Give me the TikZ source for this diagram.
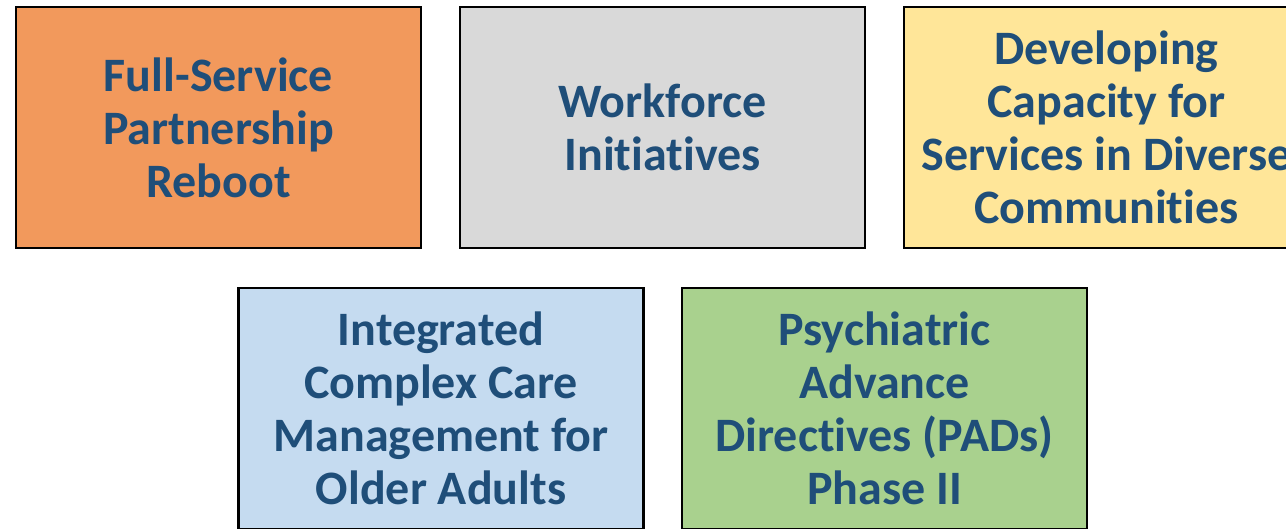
\documentclass[tikz,border=0pt]{standalone}
\usepackage{fontspec}
\setmainfont{Carlito}[Ligatures={NoCommon,NoContextual}]
\usepackage{tikz}

\definecolor{fsporange}{HTML}{F2995C}
\definecolor{wfgray}{HTML}{D9D9D9}
\definecolor{dcyellow}{HTML}{FFE699}
\definecolor{iccblue}{HTML}{C5DBF0}
\definecolor{padgreen}{HTML}{A9D18E}
\definecolor{titleblue}{HTML}{1F4E79}

\begin{document}
\begin{tikzpicture}[x=1pt, y=-1pt,
  card/.style={draw=black, line width=2.4pt, minimum width=405pt, minimum height=241pt,
    inner sep=0pt, align=center, text=titleblue,
    font=\fontsize{48}{53}\selectfont\bfseries}]
\useasboundingbox (0,0) rectangle (1286,528);
\clip (0,0) rectangle (1286,528);

% top row
\node[card, fill=fsporange] (fsp) at (218.5,127.5) {Full-Service\\Partnership\\Reboot};
\node[card, fill=wfgray] (wfi) at (662.5,127.5) {Workforce\\Initiatives};
\node[card, fill=dcyellow] (dcd) at (1106.5,127.5) {Developing\\Capacity for\\Services in Diverse\\Communities};

% bottom row
\node[card, fill=iccblue] (icc) at (441,408.5) {Integrated\\Complex Care\\Management for\\Older Adults};
\node[card, fill=padgreen] (pad) at (884.5,408.5) {Psychiatric\\Advance\\Directives (PADs)\\Phase II};
\end{tikzpicture}
\end{document}
